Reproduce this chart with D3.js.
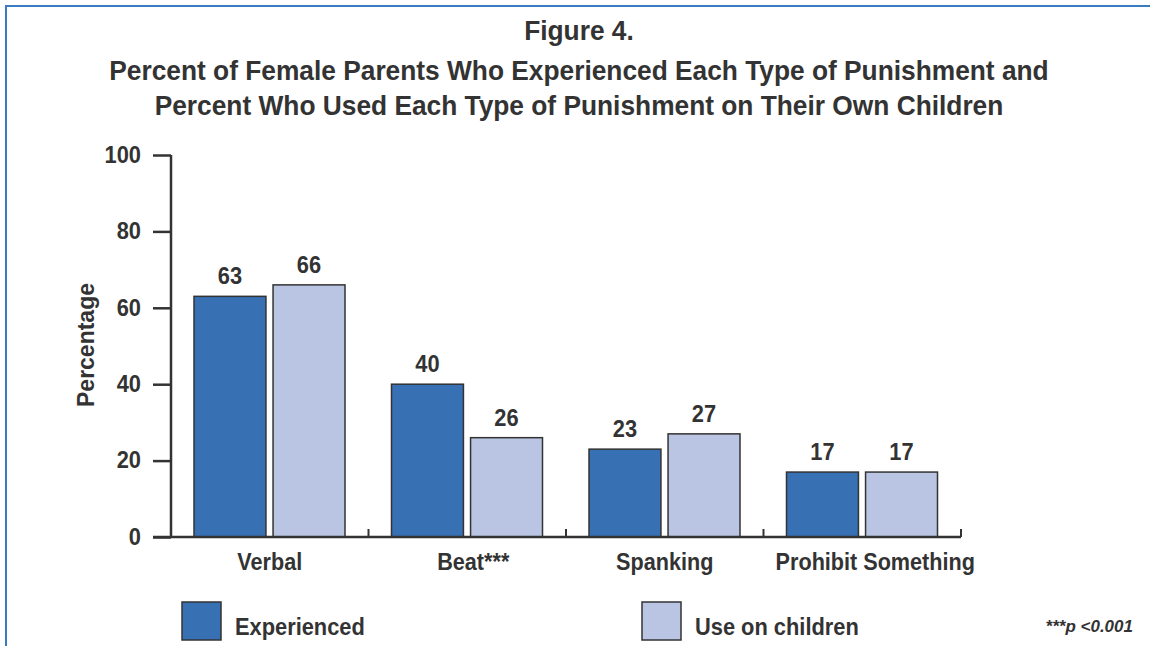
<!DOCTYPE html>
<html>
<head>
<meta charset="utf-8">
<script src="https://cdn.jsdelivr.net/npm/d3@7"></script>
<style>
  html, body { margin: 0; padding: 0; background: #fff; }
  svg { display: block; }
  text { font-family: "Liberation Sans Narrow", "Arial Narrow", "Liberation Sans", sans-serif; font-weight: bold; fill: #333; }
</style>
</head>
<body>
<svg id="chart" width="1150" height="646"></svg>
<script>
const categories = ["Verbal", "Beat***", "Spanking", "Prohibit Something"];
const seriesNames = ["Experienced", "Use on children"];
const experienced = [63, 40, 23, 17];
const useOnChildren = [66, 26, 27, 17];
const yTicks = [0, 20, 40, 60, 80, 100];
const colors = ["#3870b4", "#b9c5e2"];

const svg = d3.select("#chart");
const ink = "#333";

// horizontally condense text around its own anchor point
function squeeze(sel, k) {
  sel.each(function () {
    const t = d3.select(this);
    const x = +t.attr("x") || 0, y = +t.attr("y") || 0;
    const prev = t.attr("transform") || "";
    t.attr("transform", `${prev} translate(${x},${y}) scale(${k},1) translate(${-x},${-y})`);
  });
}

// border (top and left)
svg.append("path").attr("d", "M6,646 L6,6 L1150,6").attr("fill", "none")
  .attr("stroke", "#3a7cc4").attr("stroke-width", 2);

// titles
const titleLines = [
  ["Figure 4.", 40],
  ["Percent of Female Parents Who Experienced Each Type of Punishment and", 80],
  ["Percent Who Used Each Type of Punishment on Their Own Children", 115]
];
svg.selectAll("text.title").data(titleLines).join("text").attr("class", "title")
  .attr("x", 579).attr("y", d => d[1]).attr("text-anchor", "middle")
  .attr("font-size", 28).text(d => d[0])
  .call(squeeze, 0.94);

const x0 = d3.scaleBand().domain(categories).range([171, 961]).padding(0);
const x1 = d3.scaleBand().domain(seriesNames).range([23, 174]).paddingInner(0.09);
const y = d3.scaleLinear().domain([0, 100]).range([537, 155]);

const data = categories.map((c, i) => ({ cat: c, vals: [experienced[i], useOnChildren[i]] }));

// y axis
const yAxis = svg.append("g").attr("transform", "translate(171,0)")
  .call(d3.axisLeft(y).tickValues(yTicks).tickSize(18).tickPadding(12).tickFormat(d3.format("d")));
yAxis.select(".domain").attr("d", `M0,${y(100)}V${y(0)}`).attr("stroke", ink).attr("stroke-width", 2.5);
yAxis.selectAll(".tick line").attr("stroke", ink).attr("stroke-width", 2.5);
yAxis.selectAll(".tick text").attr("font-size", 23).attr("fill", ink)
  .style("font-family", '"Liberation Sans Narrow", "Liberation Sans", sans-serif').style("font-weight", "bold")
  .call(squeeze, 0.95);

// bars
const groups = svg.selectAll("g.cat").data(data).join("g").attr("class", "cat")
  .attr("transform", d => `translate(${x0(d.cat)},0)`);
groups.selectAll("rect").data(d => d.vals.map((v, j) => ({ s: seriesNames[j], v, j })))
  .join("rect")
  .attr("x", d => x1(d.s)).attr("width", x1.bandwidth())
  .attr("y", d => y(d.v)).attr("height", d => y(0) - y(d.v))
  .attr("fill", d => colors[d.j]).attr("stroke", ink).attr("stroke-width", 1.5);
groups.selectAll("text.val").data(d => d.vals.map((v, j) => ({ s: seriesNames[j], v, j })))
  .join("text").attr("class", "val")
  .attr("x", d => x1(d.s) + x1.bandwidth() / 2).attr("y", d => y(d.v) - 12)
  .attr("text-anchor", "middle").attr("font-size", 23).text(d => d.v)
  .call(squeeze, 0.95);

// x axis baseline with group ticks
const xAxis = svg.append("g").attr("transform", `translate(0,${y(0)})`)
  .call(d3.axisBottom(x0).tickSize(0).tickPadding(13));
xAxis.select(".domain").attr("d", `M153,0H${x0.range()[1]}`).attr("stroke", ink).attr("stroke-width", 2.5);
const labelShift = { "Beat***": 6, "Prohibit Something": 13 };
xAxis.selectAll(".tick text").attr("font-size", 23).attr("fill", ink).attr("dy", "0.85em")
  .attr("x", d => labelShift[d] || 0)
  .style("font-family", '"Liberation Sans Narrow", "Liberation Sans", sans-serif').style("font-weight", "bold")
  .call(squeeze, 0.94);
const boundaries = categories.map(c => x0(c) + x0.bandwidth()).concat([x0(categories[0])]);
xAxis.selectAll("line.sep").data(boundaries).join("line").attr("class", "sep")
  .attr("x1", d => d).attr("x2", d => d).attr("y1", 0).attr("y2", -8)
  .attr("stroke", ink).attr("stroke-width", 2);

// y label
svg.append("text").attr("transform", "translate(94,345) rotate(-90)")
  .attr("text-anchor", "middle").attr("font-size", 23).text("Percentage");

// legend
const legendX = [182, 642];
const lg = svg.selectAll("g.leg").data(seriesNames).join("g").attr("class", "leg")
  .attr("transform", (d, i) => `translate(${legendX[i]},602)`);
lg.append("rect").attr("width", 39).attr("height", 38)
  .attr("fill", (d, i) => colors[i]).attr("stroke", ink).attr("stroke-width", 1.5);
lg.append("text").attr("x", 53).attr("y", 33).attr("font-size", 24).text(d => d)
  .each(function () {
    d3.select(this).attr("transform", "translate(53,0) scale(0.91,1) translate(-53,0)");
  });

svg.append("text").attr("x", 1133).attr("y", 632).attr("text-anchor", "end")
  .attr("font-size", 17).attr("font-style", "italic").text("***p <0.001");
</script>
</body>
</html>
